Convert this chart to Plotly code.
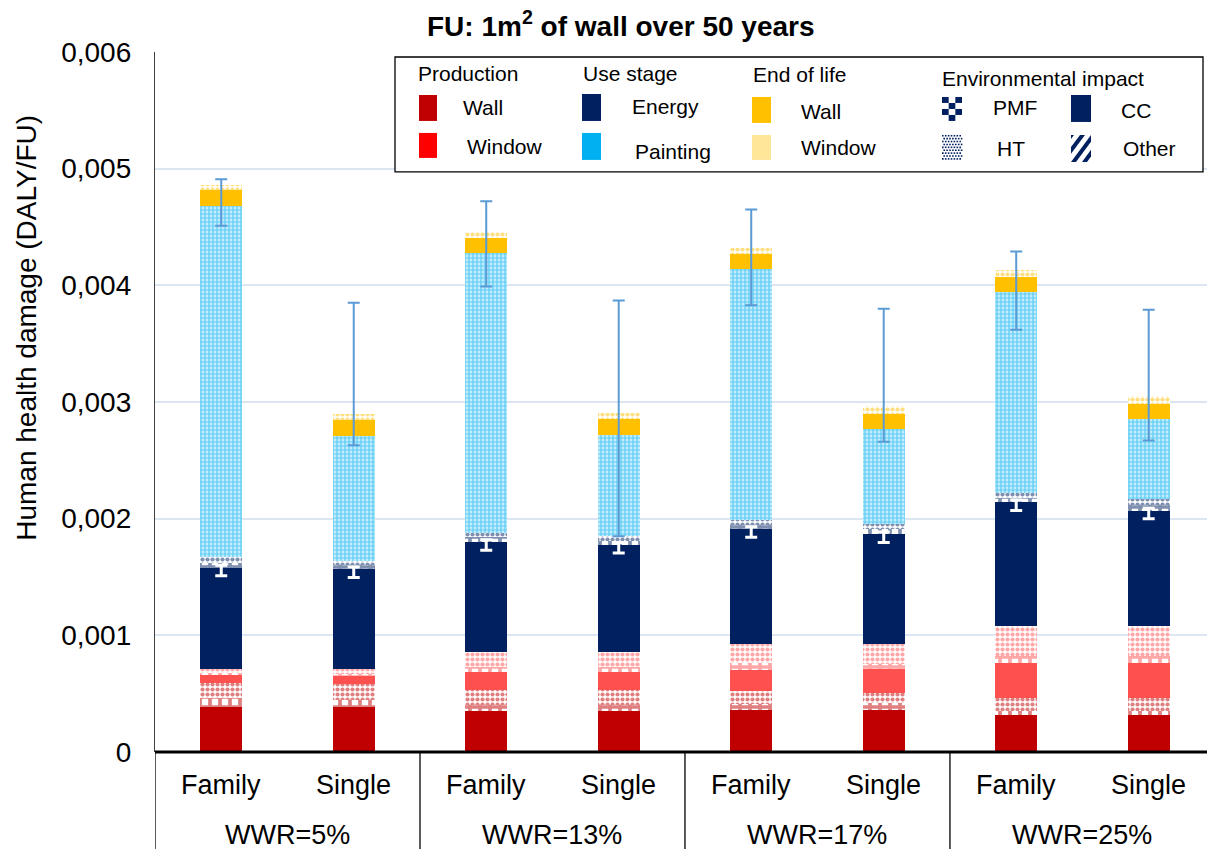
import numpy as np
import plotly.graph_objects as go

# ---------------------------------------------------------------- data
# Damage values in 1e-3 DALY per functional unit, one entry per bar
categories = ["Family", "Single"] * 4
groups = ["WWR=5%", "WWR=13%", "WWR=17%", "WWR=25%"]
y_ticks = [0, 0.001, 0.002, 0.003, 0.004, 0.005, 0.006]
y_ticktext = ["0", "0,001", "0,002", "0,003", "0,004", "0,005", "0,006"]

prod_wall_cc = [0.39, 0.39, 0.35, 0.35, 0.36, 0.36, 0.32, 0.32]
prod_wall_pmf = [0.07, 0.06, 0.05, 0.05, 0.05, 0.06, 0.03, 0.03]
prod_wall_ht = [0.13, 0.13, 0.135, 0.135, 0.11, 0.09, 0.115, 0.115]
prod_window_cc = [0.07, 0.07, 0.155, 0.155, 0.18, 0.20, 0.30, 0.30]
prod_window_pmf = [0.02, 0.02, 0.04, 0.04, 0.06, 0.045, 0.055, 0.055]
prod_window_ht = [0.035, 0.04, 0.125, 0.125, 0.17, 0.175, 0.26, 0.26]
use_energy_cc = [0.865, 0.855, 0.945, 0.92, 0.98, 0.935, 1.06, 0.99]
use_energy_pmf = [0.04, 0.035, 0.04, 0.035, 0.04, 0.045, 0.04, 0.05]
use_energy_ht = [0.055, 0.04, 0.04, 0.045, 0.04, 0.045, 0.04, 0.045]
use_painting_ht = [3.005, 1.07, 2.40, 0.865, 2.15, 0.815, 1.725, 0.69]
eol_wall_cc = [0.14, 0.14, 0.13, 0.135, 0.13, 0.125, 0.125, 0.125]
eol_window = [0.04, 0.05, 0.05, 0.055, 0.05, 0.07, 0.06, 0.07]

# uncertainty range of the total damage
err_high = [4.91, 3.85, 4.72, 3.87, 4.65, 3.80, 4.29, 3.79]
err_low = [4.51, 2.63, 3.99, 1.85, 3.83, 2.66, 3.62, 2.67]

SCALE = 1e-3

# ---------------------------------------------------------------- styles
W, H = 1207, 849
ML, MR, MT, MB = 155, 0, 52, 96.5
FONT = "Liberation Sans, Arial, sans-serif"

C_WALL = "#C00000"
C_WIN_BAR = "#FF5050"
C_WIN_LEG = "#FF0000"
C_NAVY = "#002060"
C_PAINT = "#00B0F0"
C_EOL_WALL = "#FFC000"
C_EOL_WIN = "#FFE699"
C_ERR = "#5B9BD5"
C_GRID = "#DCE6F2"

AXIS_FONT = 27
TICK_FONT = 28
LEG_FONT = 21

x = np.arange(len(categories))
BAR_W = 0.32


def solid(color):
    return dict(color=color, line=dict(width=0))


def dotted(color, size=4, solidity=0.7, bg="white"):
    return dict(color=bg, line=dict(width=0),
                pattern=dict(shape=".", fgcolor=color, bgcolor=bg,
                             size=size, solidity=solidity, fillmode="overlay"))


def checker(color):
    return dict(color="white", line=dict(width=0),
                pattern=dict(shape="+", fgcolor=color, bgcolor="white",
                             size=10, solidity=0.6, fillmode="overlay"))


segments = [
    (prod_wall_cc, solid(C_WALL)),
    (prod_wall_pmf, checker(C_WALL)),
    (prod_wall_ht, dotted(C_WALL, size=5, solidity=0.55)),
    (prod_window_cc, solid(C_WIN_BAR)),
    (prod_window_pmf, checker(C_WIN_BAR)),
    (prod_window_ht, dotted(C_WIN_BAR, size=5, solidity=0.55)),
    (use_energy_cc, solid(C_NAVY)),
    (use_energy_pmf, checker(C_NAVY)),
    (use_energy_ht, dotted(C_NAVY, size=5, solidity=0.55)),
    (use_painting_ht, dotted(C_PAINT, bg="#E2F5FD")),
    (eol_wall_cc, solid(C_EOL_WALL)),
    (eol_window, dotted(C_EOL_WALL, size=5, solidity=0.55)),
]

fig = go.Figure()
for vals, marker in segments:
    fig.add_trace(go.Bar(x=x, y=np.array(vals) * SCALE, width=BAR_W,
                         marker=marker, showlegend=False, hoverinfo="skip"))

# white marker at the top of the energy block
energy_top = (np.array(prod_wall_cc) + np.array(prod_wall_pmf) + np.array(prod_wall_ht)
              + np.array(prod_window_cc) + np.array(prod_window_pmf)
              + np.array(prod_window_ht) + np.array(use_energy_cc)) * SCALE
fig.add_trace(go.Scatter(
    x=x, y=energy_top, mode="markers", marker=dict(size=1, opacity=0),
    error_y=dict(type="data", symmetric=False, array=[0.02 * SCALE] * 8,
                 arrayminus=[0.07 * SCALE] * 8, color="white",
                 thickness=3, width=6),
    showlegend=False, hoverinfo="skip"))

# error bars on the totals
hi = np.array(err_high) * SCALE
lo = np.array(err_low) * SCALE
fig.add_trace(go.Scatter(
    x=x, y=(hi + lo) / 2, mode="markers", marker=dict(size=1, opacity=0),
    error_y=dict(type="data", array=(hi - lo) / 2, color=C_ERR,
                 thickness=2, width=6),
    showlegend=False, hoverinfo="skip"))

# ---------------------------------------------------------------- helpers
PW = W - ML - MR
PH = H - MT - MB


def px(xp):
    return (xp - ML) / PW


def py(yp):
    return (H - MB - yp) / PH


shapes = []
annotations = []


def rect(x0, y0, x1, y1, color, line=None):
    shapes.append(dict(type="rect", xref="paper", yref="paper",
                       x0=px(x0), x1=px(x1), y0=py(y1), y1=py(y0),
                       fillcolor=color,
                       line=line or dict(width=0), layer="above"))


def text(s, x0, yc, size=LEG_FONT, anchor="left", color="black"):
    annotations.append(dict(text=s, x=px(x0), y=py(yc), xref="paper", yref="paper",
                            xanchor=anchor, yanchor="middle", showarrow=False,
                            font=dict(family=FONT, size=size, color=color)))


# ---------------------------------------------------------------- axis titles
annotations.append(dict(text="<b>FU: 1m<sup>2</sup> of wall over 50 years</b>",
                        x=px(621), y=py(24), xref="paper", yref="paper",
                        xanchor="center", yanchor="middle", showarrow=False,
                        font=dict(family=FONT, size=28, color="black")))
annotations.append(dict(text="Human health damage (DALY/FU)", textangle=-90,
                        x=px(27), y=py(328), xref="paper", yref="paper",
                        xanchor="center", yanchor="middle", showarrow=False,
                        font=dict(family=FONT, size=28, color="black")))

# ---------------------------------------------------------------- category axis
for i, cat in enumerate(categories):
    annotations.append(dict(text=cat, x=i, y=py(786), xref="x", yref="paper",
                            xanchor="center", yanchor="middle", showarrow=False,
                            font=dict(family=FONT, size=AXIS_FONT, color="black")))
for g, name in enumerate(groups):
    annotations.append(dict(text=name, x=2 * g + 0.5, y=py(836), xref="x",
                            yref="paper", xanchor="center", yanchor="middle",
                            showarrow=False,
                            font=dict(family=FONT, size=AXIS_FONT, color="black")))
for g in range(4):
    shapes.append(dict(type="line", xref="x", yref="paper",
                       x0=2 * g - 0.5, x1=2 * g - 0.5, y0=0, y1=py(H + 5),
                       line=dict(color="black", width=1.3), layer="above"))
shapes.append(dict(type="line", xref="paper", yref="paper", x0=0, x1=1,
                   y0=0, y1=0, line=dict(color="black", width=3), layer="above"))

# ---------------------------------------------------------------- legend box
rect(395, 57, 1203, 172, "white", line=dict(color="black", width=1.3))

text("Production", 416, 74)
rect(419, 95, 437, 121, C_WALL)
text("Wall", 461, 108)
rect(419, 133, 437, 158, C_WIN_LEG)
text("Window", 465, 147)

text("Use stage", 581, 74)
rect(582, 94, 601, 121, C_NAVY)
text("Energy", 630, 107)
rect(582, 133, 601, 160, C_PAINT)
text("Painting", 633, 152)

text("End of life", 751, 75)
rect(752, 97, 771, 123, C_EOL_WALL)
text("Wall", 799, 112)
rect(752, 135, 771, 160, C_EOL_WIN)
text("Window", 799, 148)

text("Environmental impact", 940, 79)
# PMF: checkerboard
cw, ch = 20 / 3, 24 / 4
for r in range(4):
    for c in range(3):
        if (r + c) % 2 == 0:
            rect(942 + c * cw, 97 + r * ch, 942 + (c + 1) * cw, 97 + (r + 1) * ch, C_NAVY)
text("PMF", 991, 108)
rect(1071, 95, 1091, 122, C_NAVY)
text("CC", 1119, 111)
# HT: dots
for r in range(9):
    for c in range(7):
        x0 = 942 + c * 2.9 + (1.4 if r % 2 else 0)
        y0 = 135 + r * 2.9
        if x0 + 1.6 <= 962.5:
            rect(x0, y0, x0 + 1.6, y0 + 1.6, C_NAVY)
text("HT", 995, 149)


# Other: diagonal stripes clipped to the swatch
def clip(poly, xmin, xmax, ymin, ymax):
    def clip_edge(pts, inside, inter):
        out = []
        for i in range(len(pts)):
            a, b = pts[i - 1], pts[i]
            if inside(b):
                if not inside(a):
                    out.append(inter(a, b))
                out.append(b)
            elif inside(a):
                out.append(inter(a, b))
        return out

    def ix(a, b, xv):
        t = (xv - a[0]) / (b[0] - a[0])
        return (xv, a[1] + t * (b[1] - a[1]))

    def iy(a, b, yv):
        t = (yv - a[1]) / (b[1] - a[1])
        return (a[0] + t * (b[0] - a[0]), yv)

    pts = poly
    pts = clip_edge(pts, lambda p: p[0] >= xmin, lambda a, b: ix(a, b, xmin))
    pts = clip_edge(pts, lambda p: p[0] <= xmax, lambda a, b: ix(a, b, xmax))
    pts = clip_edge(pts, lambda p: p[1] >= ymin, lambda a, b: iy(a, b, ymin))
    pts = clip_edge(pts, lambda p: p[1] <= ymax, lambda a, b: iy(a, b, ymax))
    return pts


sx0, sy0, sx1, sy1 = 1071, 135, 1091, 162
for k in range(-2, 5):
    off = k * 11
    band = [(sx0 + off, sy1), (sx0 + off + 5, sy1),
            (sx0 + off + 5 + 20, sy0), (sx0 + off + 20, sy0)]
    pts = clip(band, sx0, sx1, sy0, sy1)
    if len(pts) >= 3:
        d = "M " + " L ".join(f"{px(a):.5f},{py(b):.5f}" for a, b in pts) + " Z"
        shapes.append(dict(type="path", xref="paper", yref="paper", path=d,
                           fillcolor=C_NAVY, line=dict(width=0), layer="above"))
text("Other", 1121, 149)

# ---------------------------------------------------------------- layout
fig.update_layout(
    width=W, height=H,
    margin=dict(l=ML, r=MR, t=MT, b=MB, pad=0),
    barmode="stack", bargap=0,
    plot_bgcolor="white", paper_bgcolor="white",
    font=dict(family=FONT, color="black"),
    xaxis=dict(range=[-0.5, 7.44], showticklabels=False, showgrid=False,
               zeroline=False, showline=False, ticks=""),
    yaxis=dict(range=[0, 0.006], tickvals=y_ticks, ticktext=y_ticktext,
               showgrid=True, gridcolor=C_GRID, gridwidth=2,
               zeroline=False, showline=True, linecolor="#404040", linewidth=1.3,
               ticks="", ticklabelstandoff=17,
               tickfont=dict(family=FONT, size=TICK_FONT, color="black")),
    shapes=shapes,
    annotations=annotations,
    showlegend=False,
)

fig.write_html("out.html")
